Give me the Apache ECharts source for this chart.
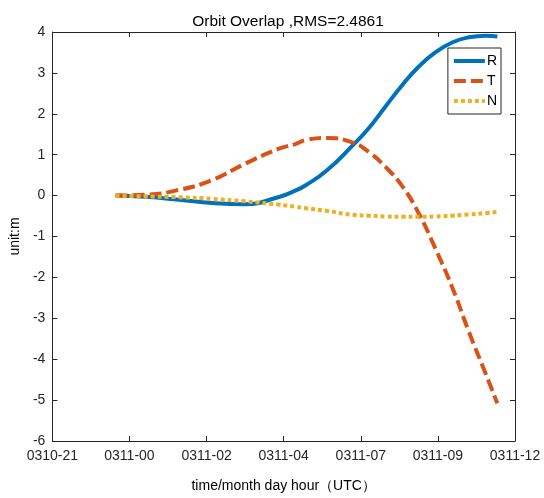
<!DOCTYPE html>
<html>
<head>
<meta charset="utf-8">
<script src="https://cdn.jsdelivr.net/npm/echarts@6/dist/echarts.min.js"></script>
<style>
  html, body { margin: 0; padding: 0; background: #fff; }
  #chart { width: 544px; height: 498px; }
</style>
</head>
<body>
<div id="chart"></div>
<script>
// Time in hours relative to 0311-00 UTC
const hours = [-0.43, 0.48, 1.54, 2.57, 3.6, 4.63, 5.16, 5.5, 6.12, 6.94, 7.46, 7.97, 8.5, 9.0, 9.53, 10.06, 10.56, 11.09, 11.45];
// Orbit overlap differences (m) for the three components
const seriesR = [0, -0.03, -0.1, -0.18, -0.21, -0.04, 0.12, 0.26, 0.6, 1.22, 1.66, 2.18, 2.71, 3.15, 3.51, 3.75, 3.87, 3.91, 3.89];
const seriesT = [0, 0.02, 0.14, 0.38, 0.78, 1.14, 1.26, 1.36, 1.41, 1.30, 1.06, 0.70, 0.22, -0.43, -1.31, -2.27, -3.32, -4.36, -5.08];
const seriesN = [0, -0.02, -0.04, -0.08, -0.14, -0.22, -0.27, -0.31, -0.37, -0.47, -0.49, -0.51, -0.52, -0.52, -0.51, -0.49, -0.46, -0.43, -0.40];
const seriesNames = ['R', 'T', 'N'];

// Axis ticks
const xTickLabels = ['0310-21', '0311-00', '0311-02', '0311-04', '0311-07', '0311-09', '0311-12'];
const xMin = -2.4, xMax = 12, xStep = 2.4;
const yTicks = [-6, -5, -4, -3, -2, -1, 0, 1, 2, 3, 4];

const font = 'Liberation Sans, Arial, sans-serif';
const axisColor = '#262626';

function pairs(xs, ys) { return xs.map((x, i) => [x, ys[i]]); }

const chart = echarts.init(document.getElementById('chart'), null, { renderer: 'canvas' });

function boxAxis(extra) {
  return Object.assign({
    axisLine: { show: true, onZero: false, lineStyle: { color: axisColor, width: 1 } },
    axisTick: { show: true, inside: true, length: 5, lineStyle: { color: axisColor } },
    splitLine: { show: false }
  }, extra);
}

chart.setOption({
  animation: false,
  backgroundColor: '#fff',
  title: {
    text: 'Orbit Overlap ,RMS=2.4861',
    left: 283, top: 9, textAlign: 'center',
    textStyle: { fontFamily: font, fontSize: 15.5, fontWeight: 'normal', color: '#000' }
  },
  grid: { left: 51, right: 29, top: 32, bottom: 51, containLabel: false },
  legend: {
    orient: 'vertical',
    right: 43, top: 48,
    data: seriesNames,
    itemWidth: 31, itemHeight: 14, itemGap: 6,
    padding: [6, 4, 6, 4],
    borderColor: '#262626', borderWidth: 1,
    backgroundColor: '#fff',
    itemStyle: { opacity: 0 },
    lineStyle: { width: 4 },
    textStyle: { fontFamily: font, fontSize: 14, color: '#000', padding: [0, 0, 0, -3] }
  },
  xAxis: [
    boxAxis({
      type: 'value', min: xMin, max: xMax, interval: xStep, position: 'bottom',
      name: 'time/month day hour（UTC）', nameLocation: 'middle', nameGap: 38,
      nameTextStyle: { fontFamily: font, fontSize: 14, color: '#000' },
      axisLabel: {
        fontFamily: font, fontSize: 14, color: axisColor, margin: 8,
        formatter: v => xTickLabels[Math.round((v - xMin) / xStep)] || ''
      }
    }),
    boxAxis({
      type: 'value', min: xMin, max: xMax, interval: xStep, position: 'top',
      axisLabel: { show: false }
    })
  ],
  yAxis: [
    boxAxis({
      type: 'value', min: yTicks[0], max: yTicks[yTicks.length - 1], interval: 1, position: 'left',
      name: 'unit:m', nameLocation: 'middle', nameGap: 26,
      nameTextStyle: { fontFamily: font, fontSize: 14, color: '#000' },
      axisLabel: { fontFamily: font, fontSize: 14, color: axisColor, margin: 7 }
    }),
    boxAxis({
      type: 'value', min: yTicks[0], max: yTicks[yTicks.length - 1], interval: 1, position: 'right',
      axisLabel: { show: false }
    })
  ],
  series: [
    {
      name: 'R', type: 'line', smooth: true, symbol: 'none', z: 2,
      data: pairs(hours, seriesR),
      lineStyle: { color: '#0072BD', width: 4, type: 'solid' },
      itemStyle: { color: '#0072BD' }
    },
    {
      name: 'T', type: 'line', smooth: true, symbol: 'none', z: 3,
      data: pairs(hours, seriesT),
      lineStyle: { color: '#D95319', width: 4, type: [12, 5], cap: 'butt' },
      itemStyle: { color: '#D95319' }
    },
    {
      name: 'N', type: 'line', smooth: true, symbol: 'none', z: 4,
      data: pairs(hours, seriesN),
      lineStyle: { color: '#EDB120', width: 4, type: [4, 3], cap: 'butt' },
      itemStyle: { color: '#EDB120' }
    }
  ]
});
</script>
</body>
</html>
